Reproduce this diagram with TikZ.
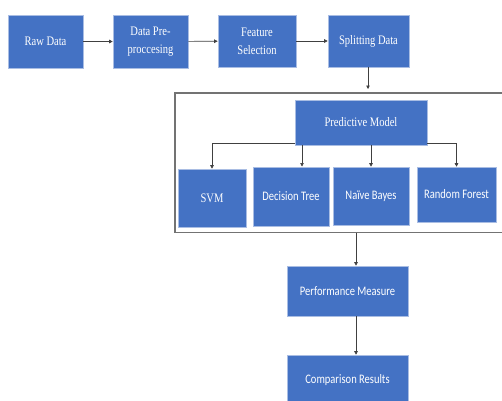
\documentclass[tikz,border=0pt]{standalone}
\usepackage{fontspec}
\newfontfamily\tnrfont[FakeStretch=0.81]{Liberation Serif}
\newfontfamily\calfont[FakeStretch=0.81]{Carlito}
\usetikzlibrary{arrows.meta}
\definecolor{boxblue}{HTML}{4472C4}
\definecolor{boxedge}{HTML}{A9BDE3}
\tikzset{
  blk/.style={draw=boxedge, line width=0.6pt, fill=boxblue, text=white, align=center, inner sep=0pt},
  serif/.style={font=\fontsize{13}{18}\selectfont\tnrfont},
  sans/.style={font=\fontsize{13}{18}\selectfont\calfont},
  conn/.style={draw=black!75, line width=0.6pt, -{Triangle[length=3.5pt,width=3.5pt]}},
  frame/.style={draw=black!55, line width=1.3pt}
}
\begin{document}
\begin{tikzpicture}[x=1pt,y=-1pt]
\useasboundingbox (0,0) rectangle (502,400);
\clip (0,0) rectangle (502,400);
% top row
\node[blk,serif,minimum width=75,minimum height=53] (raw) at (45.5,41.5) {Raw Data};
\node[blk,serif,minimum width=75,minimum height=53] (pre) at (150.5,41.5) {Data Pre-\\proccesing};
\node[blk,serif,minimum width=78,minimum height=52] (fs) at (257,41) {Feature\\Selection};
\node[blk,serif,minimum width=81,minimum height=52] (split) at (368.5,41) {Splitting Data};
\draw[conn] (raw) -- (pre);
\draw[conn] (pre) -- (fs);
\draw[conn] (fs) -- (split);
\coordinate (cin) at (368,89);
\draw[conn] (split.south -| cin) -- (cin);
% container
\draw[frame] (503,93) -- (175,93) -- (175,232.5) -- (503,232.5);
\coordinate (cout) at (356,232.5);
% predictive model
\node[blk,serif,minimum width=132,minimum height=45] (pm) at (361,122.5) {Predictive Model};
\node[blk,serif,minimum width=68,minimum height=58] (svm) at (212,198) {SVM};
\node[blk,sans,minimum width=76,minimum height=59] (dt) at (291,196.5) {Decision Tree};
\node[blk,sans,minimum width=76,minimum height=58] (nb) at (371,196) {Naïve Bayes};
\node[blk,sans,minimum width=79,minimum height=55] (rf) at (456.5,194.5) {Random Forest};
\coordinate (pl) at (295,143);
\coordinate (pr) at (427,143);
\draw[conn] (pl) -| (svm.north);
\draw[conn] (pr) -| (rf.north);
\draw[conn] (302,145) -- (302,166.5);
\draw[conn] (nb.north |- pm.south) -- (nb.north);
% bottom
\node[blk,sans,minimum width=121,minimum height=50] (perf) at (347.5,291) {Performance Measure};
\node[blk,sans,minimum width=121,minimum height=50] (comp) at (347.5,380) {Comparison Results};
\draw[conn] (cout) -- (cout |- perf.north);
\draw[conn] (perf.south -| cout) -- (comp.north -| cout);
\end{tikzpicture}
\end{document}
